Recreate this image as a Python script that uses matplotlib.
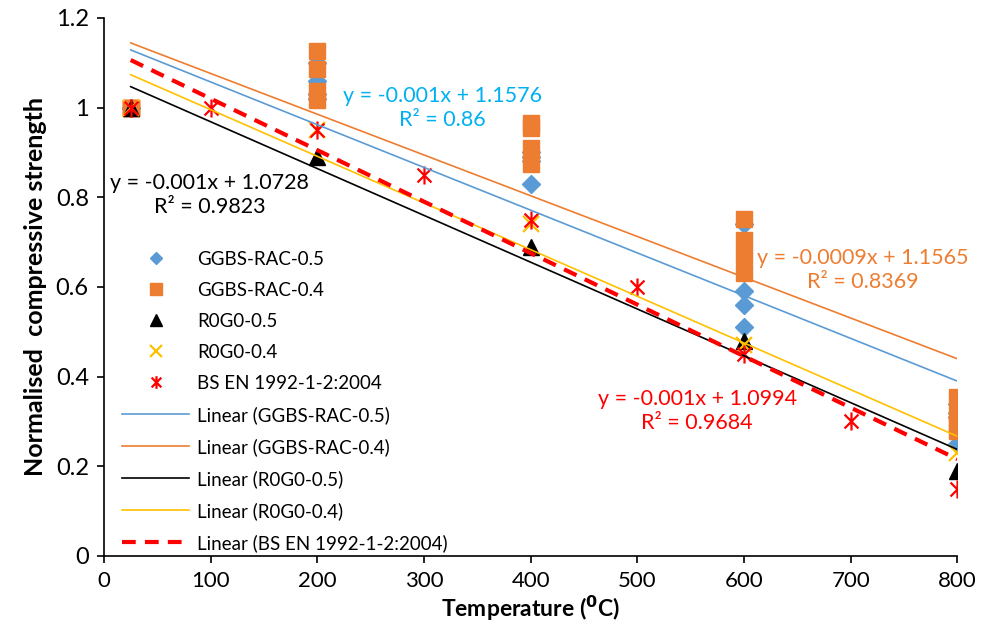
import numpy as np
import matplotlib
matplotlib.use('Agg')
import matplotlib.pyplot as plt
from matplotlib.path import Path
from matplotlib import font_manager

# Данные: температура (°C) и относительная прочность
ggbs05_T = [25, 25, 25, 25, 200, 200, 200, 200, 400, 400, 400, 400,
            600, 600, 600, 600, 800, 800, 800, 800]
ggbs05_S = [1, 1, 1, 1, 1.06, 1.10, 1.03, 1.02, 0.83, 0.88, 0.89, 0.90,
            0.74, 0.59, 0.56, 0.51, 0.25, 0.31, 0.34, 0.32]

ggbs04_T = [25, 25, 25, 25, 200, 200, 200, 200, 400, 400, 400, 400,
            600, 600, 600, 600, 800, 800, 800, 800]
ggbs04_S = [1, 1, 1, 1, 1.127, 1.087, 1.038, 1.016, 0.966, 0.955, 0.91, 0.875,
            0.751, 0.705, 0.67, 0.632, 0.355, 0.317, 0.295, 0.279]

r0g0_05_T = [25, 200, 400, 600, 800]
r0g0_05_S = [1, 0.89, 0.69, 0.48, 0.19]

r0g0_04_T = [25, 200, 400, 600, 800]
r0g0_04_S = [1, 0.95, 0.74, 0.47, 0.23]

bsen_T = [25, 100, 200, 300, 400, 500, 600, 700, 800]
bsen_S = [1, 1, 0.95, 0.85, 0.75, 0.6, 0.45, 0.3, 0.15]

names = ['GGBS-RAC-0.5', 'GGBS-RAC-0.4', 'R0G0-0.5', 'R0G0-0.4', 'BS EN 1992-1-2:2004']
eq_texts = ['y = -0.001x + 1.1576\nR² = 0.86',
            'y = -0.001x + 1.0728\nR² = 0.9823',
            'y = -0.0009x + 1.1565\nR² = 0.8369',
            'y = -0.001x + 1.0994\nR² = 0.9684']

plt.rcParams['font.family'] = ['Lato', 'DejaVu Sans']
avail = {f.name for f in font_manager.fontManager.ttflist}
narrow = 'Liberation Sans Narrow' if 'Liberation Sans Narrow' in avail else 'Lato'

# маркер "звёздочка" как в Excel: X + вертикальная черта
star = Path([(-1, -1), (1, 1), (-1, 1), (1, -1), (0, -1.3), (0, 1.3)],
            [Path.MOVETO, Path.LINETO] * 3)

blue = '#5B9BD5'
orange = '#ED7D31'
yellow = '#FFC000'
red = '#FF0000'

fig = plt.figure(figsize=(9.91, 6.3), dpi=100)
ax = fig.add_axes([0.105, 0.1175, 0.861, 0.854])

series = [
    (ggbs05_T, ggbs05_S, dict(marker='D', ms=9, color=blue, mec=blue)),
    (ggbs04_T, ggbs04_S, dict(marker='s', ms=12, color=orange, mec=orange)),
    (r0g0_05_T, r0g0_05_S, dict(marker='^', ms=12, color='black', mec='black')),
    (r0g0_04_T, r0g0_04_S, dict(marker='x', ms=12, mew=1.6, color=yellow)),
    (bsen_T, bsen_S, dict(marker=star, ms=13, mew=1.6, color=red, mfc='none')),
]
for (t, s, st), name in zip(series, names):
    ax.plot(t, s, ls='none', label=name, zorder=2, **st)

line_styles = [
    dict(color=blue, lw=1.2),
    dict(color=orange, lw=1.2),
    dict(color='black', lw=1.2),
    dict(color=yellow, lw=1.2),
    dict(color=red, lw=3, ls=(0, (3.3, 2.2))),
]
for (t, s, _), name, st in zip(series, names, line_styles):
    k, b = np.polyfit(t, s, 1)
    xx = np.array([min(t), max(t)])
    ax.plot(xx, k * xx + b, label=f'Linear ({name})', zorder=3, **st)

# подписи уравнений трендов
kw = dict(fontsize=15.5, ha='center', va='center', linespacing=1.25)
ax.text(317, 1.0, eq_texts[0], color='#00B0F0', **kw)
ax.text(99, 0.806, eq_texts[1], color='black', **kw)
ax.text(711, 0.638, eq_texts[2], color=orange, **kw)
ax.text(556, 0.324, eq_texts[3], color=red, **kw)

ax.set_xlim(0, 800)
ax.set_ylim(0, 1.2)
ax.set_xticks(np.arange(0, 801, 100))
ax.set_yticks(np.arange(0, 1.21, 0.2))
ax.set_yticklabels(['0', '0.2', '0.4', '0.6', '0.8', '1', '1.2'])
ax.tick_params(direction='out', length=5, width=1.2, pad=6)
ax.tick_params(axis='y', labelsize=17)
ax.tick_params(axis='x', labelsize=16)
for lab in ax.get_xticklabels():
    lab.set_family(narrow)
for side in ['top', 'right']:
    ax.spines[side].set_visible(False)
for side in ['left', 'bottom']:
    ax.spines[side].set_linewidth(1.2)

ax.set_xlabel(r'Temperature ($\mathbf{^0}$C)', fontsize=16.5, fontweight='bold', family=narrow, labelpad=2)
ax.set_ylabel('Normalised  compressive strength', fontsize=18, fontweight='bold', labelpad=6)

ax.legend(loc='upper left', bbox_to_anchor=(0.123, 0.602), bbox_transform=fig.transFigure,
          frameon=False, fontsize=13.5, handlelength=3.6, handletextpad=0.43,
          labelspacing=0.75, markerscale=0.7, borderpad=0, borderaxespad=0)

fig.savefig('out.png', dpi=100)
